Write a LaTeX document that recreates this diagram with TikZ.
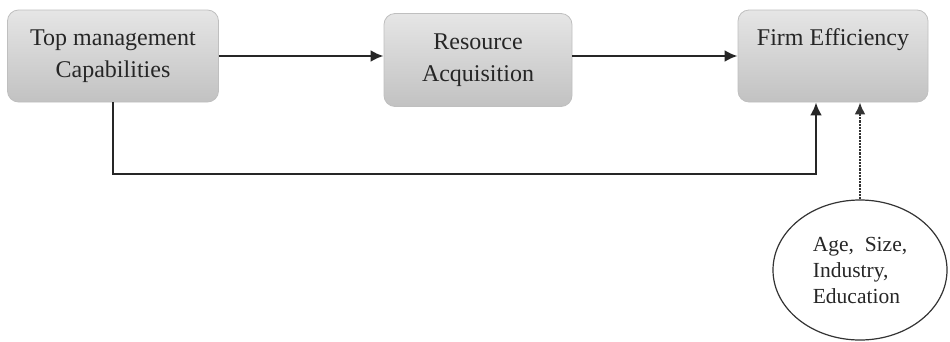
\documentclass[tikz,border=0pt]{standalone}
\usepackage{fontspec}
\setmainfont{Liberation Serif}
\usetikzlibrary{arrows.meta,shapes.geometric}
\begin{document}
\begin{tikzpicture}[x=1pt,y=-1pt,
  box/.style={draw=gray!50, line width=0.8pt, rounded corners=11pt,
    top color=gray!20, bottom color=gray!48, align=center,
    font=\fontsize{24}{32}\selectfont, text=black!85, inner sep=0pt},
  arr/.style={-{Latex[length=13pt,width=12pt]}, line width=2.8pt, black!85},
  darr/.style={-{Latex[length=12pt,width=11pt]}, line width=2.2pt, black!80, densely dotted}]
\useasboundingbox (0,0) rectangle (950,341);
\node[box, minimum width=211pt, minimum height=92pt] (b1) at (113,56) {Top management\\Capabilities};
\node[box, minimum width=188pt, minimum height=93pt] (b2) at (478,60) {Resource\\Acquisition};
\node[box, minimum width=190pt, minimum height=92pt] (b3) at (833,56) {Firm Efficiency\\[6pt]\mbox{}};
\node[ellipse, draw=black!80, line width=1.2pt, minimum width=174pt, minimum height=140pt,
  inner sep=0pt, align=left, font=\fontsize{21.5}{26}\selectfont, text=black!85] (e) at (860,270)
  {Age,~ Size,\\Industry,\\Education};
\coordinate (corner) at (816,174);
\draw[arr] (b1.east) -- (b2.west |- b1.east);
\draw[arr] (b2.east |- b3.west) -- (b3.west);
\draw[arr] (b1.south) |- (corner) -- (b3.south -| corner);
\draw[darr] (e.north) -- (b3.south -| e.north);
\end{tikzpicture}
\end{document}
